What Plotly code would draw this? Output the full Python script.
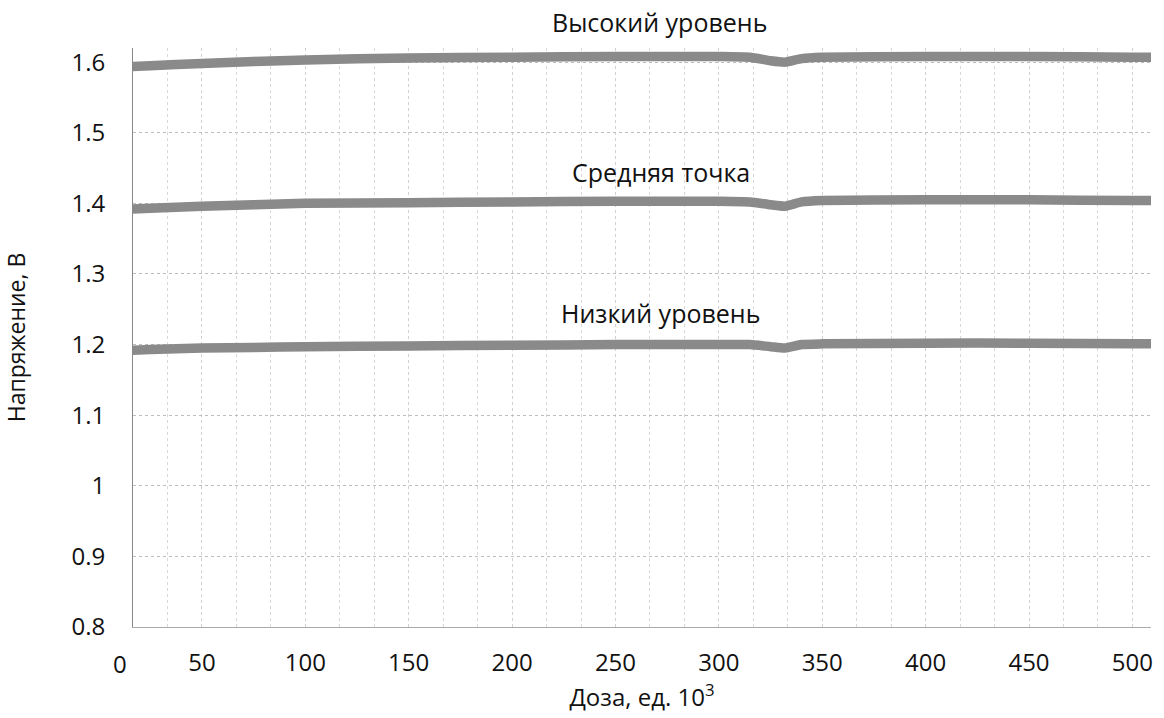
import plotly.graph_objects as go

dose = [10, 25, 50, 75, 100, 150, 200, 250, 300, 315, 325, 332, 340, 350, 400, 450, 500, 510]
high_level = [1.593, 1.595, 1.598, 1.601, 1.603, 1.606, 1.607, 1.608, 1.608, 1.607, 1.602, 1.600, 1.605, 1.607, 1.608, 1.608, 1.607, 1.607]
mid_point = [1.391, 1.393, 1.396, 1.398, 1.400, 1.401, 1.402, 1.403, 1.403, 1.402, 1.398, 1.396, 1.402, 1.404, 1.405, 1.405, 1.404, 1.404]
low_level = [1.191, 1.193, 1.195, 1.196, 1.197, 1.198, 1.199, 1.200, 1.200, 1.200, 1.197, 1.195, 1.200, 1.201, 1.202, 1.202, 1.201, 1.201]
series_names = ["Высокий уровень", "Средняя точка", "Низкий уровень"]

FONT = "Open Sans"
TXT = "#111111"
fig = go.Figure()
for name, vals in zip(series_names, [high_level, mid_point, low_level]):
    fig.add_trace(go.Scatter(x=dose, y=vals, mode="lines", name=name,
                             line=dict(color="#8a8a8a", width=9.5, shape="spline", smoothing=0.5),
                             showlegend=False))

# series labels
fig.add_annotation(x=0.517, y=1.045, xref="paper", yref="paper", text=series_names[0], showarrow=False,
                   xanchor="center", yanchor="middle", font=dict(family=FONT, size=25, color=TXT))
fig.add_annotation(x=272, y=1.444, xref="x", yref="y", text=series_names[1], showarrow=False,
                   xanchor="center", yanchor="middle", font=dict(family=FONT, size=25, color=TXT))
fig.add_annotation(x=272, y=1.2445, xref="x", yref="y", text=series_names[2], showarrow=False,
                   xanchor="center", yanchor="middle", font=dict(family=FONT, size=25, color=TXT))

# "0" tick label shown left of the axis start
fig.add_annotation(x=-0.0127, y=0, xref="paper", yref="paper", text="0", showarrow=False,
                   xanchor="center", yanchor="top", yshift=-18, font=dict(family=FONT, size=24, color=TXT))

grid = "#bdbdbd"
fig.update_xaxes(range=[16.67, 509], tickvals=[50, 100, 150, 200, 250, 300, 350, 400, 450, 500],
                 showgrid=True, gridcolor="#d0d0d0", griddash="dot", gridwidth=1,
                 minor=dict(dtick=50/3, tick0=0, showgrid=True, gridcolor="#d8d8d8", griddash="dot", gridwidth=1),
                 showline=True, linecolor="#aaaaaa", linewidth=1,
                 zeroline=False, ticks="", ticklabelstandoff=14,
                 tickfont=dict(family=FONT, size=24, color=TXT),
                 title=dict(text="Доза, ед. 10<sup>3</sup>", font=dict(family=FONT, size=24, color=TXT), standoff=0))
fig.update_yaxes(range=[0.8, 1.62], dtick=0.1, tick0=0.8,
                 showgrid=True, gridcolor=grid, griddash="dot", gridwidth=1,
                 showline=True, linecolor="#888888", linewidth=1,
                 zeroline=False, ticks="", ticklabelstandoff=22,
                 tickfont=dict(family=FONT, size=24, color=TXT),
                 title=dict(text="Напряжение, В", font=dict(family=FONT, size=23, color=TXT), standoff=40))

fig.update_layout(width=1164, height=718, plot_bgcolor="white", paper_bgcolor="white",
                  margin=dict(l=133, r=11, t=48, b=91))
fig.write_html("out.html")
